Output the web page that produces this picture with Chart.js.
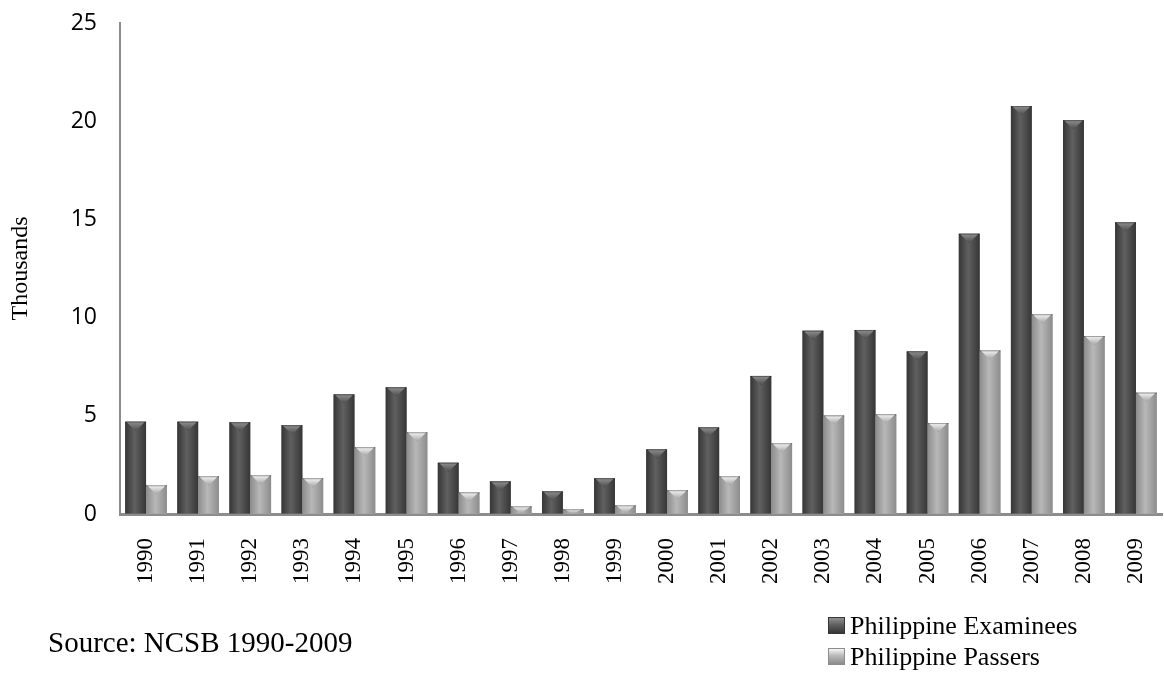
<!DOCTYPE html>
<html>
<head>
<meta charset="utf-8">
<script src="https://cdn.jsdelivr.net/npm/chart.js@4"></script>
<style>
  body { margin: 0; background: #fff; }
  #wrap { position: relative; width: 1164px; height: 675px; }
  #source { position: absolute; left: 48px; top: 624px; font: 29px 'Liberation Serif', 'Times New Roman', serif; color: #000; line-height: 36px; }
  #legend { position: absolute; left: 828px; top: 610px; font: 26px 'Liberation Serif', 'Times New Roman', serif; color: #000; }
  #legend div { height: 31px; line-height: 31px; display: flex; align-items: center; }
  #legend span.box { width: 15px; height: 15px; margin-right: 5px; display: inline-block; }
</style>
</head>
<body>
<div id="wrap">
  <canvas id="chart" width="1164" height="675"></canvas>
  <div id="source">Source: NCSB 1990-2009</div>
  <div id="legend"></div>
</div>
<script>
'use strict';
// values in thousands
var years = ['1990', '1991', '1992', '1993', '1994', '1995', '1996', '1997', '1998', '1999',
  '2000', '2001', '2002', '2003', '2004', '2005', '2006', '2007', '2008', '2009'];
var examinees = [4.70, 4.70, 4.67, 4.52, 6.09, 6.45, 2.61, 1.66, 1.15, 1.82,
  3.29, 4.41, 7.03, 9.33, 9.37, 8.28, 14.27, 20.77, 20.05, 14.85];
var passers = [1.46, 1.92, 1.97, 1.82, 3.40, 4.16, 1.10, 0.39, 0.24, 0.44,
  1.21, 1.92, 3.60, 5.02, 5.08, 4.63, 8.33, 10.17, 9.06, 6.18];
var seriesNames = ['Philippine Examinees', 'Philippine Passers'];
var yTicks = [0, 5, 10, 15, 20, 25];

// shading per series: edge, middle, top cap
var shades = [
  { edge: '#363636', mid: '#606060', cap: '#909090', capEdge: '#4a4a4a' },
  { edge: '#8c8c8c', mid: '#b8b8b8', cap: '#f6f6f6', capEdge: '#a0a0a0' }
];

var serif = "'Liberation Serif', 'Times New Roman', serif";

//draws the bevelled bars over the flat ones
var bevelPlugin = {
  id: 'bevel',
  afterDatasetsDraw: function (chart) {
    let c = chart.ctx;
    chart.data.datasets.forEach(function (ds, i) {
      let meta = chart.getDatasetMeta(i);
      let sh = shades[i];
      meta.data.forEach(function (bar) {
        let p = bar.getProps(['x', 'y', 'base', 'width'], true);
        let l = p.x - p.width / 2, r = p.x + p.width / 2;
        let g = c.createLinearGradient(l, 0, r, 0);
        g.addColorStop(0, sh.edge);
        g.addColorStop(0.45, sh.mid);
        g.addColorStop(1, sh.edge);
        c.save();
        c.fillStyle = g;
        c.fillRect(l, p.y, p.width, p.base - p.y);
        let h = Math.min(p.width * 0.45, p.base - p.y);
        let tg = c.createLinearGradient(0, p.y, 0, p.y + h);
        tg.addColorStop(0, sh.cap);
        tg.addColorStop(1, sh.capEdge);
        c.beginPath();
        c.moveTo(l + 1, p.y);
        c.lineTo(r - 1, p.y);
        c.lineTo(p.x, p.y + h);
        c.closePath();
        c.fillStyle = tg;
        c.fill();
        c.fillStyle = 'rgba(0,0,0,0.35)';
        c.fillRect(l, p.y, p.width, 1);
        c.restore();
      });
    });
  }
};

var chart = new Chart(document.getElementById('chart'), {
  type: 'bar',
  data: {
    labels: years,
    datasets: [{
      label: seriesNames[0],
      data: examinees,
      backgroundColor: shades[0].mid
    }, {
      label: seriesNames[1],
      data: passers,
      backgroundColor: shades[1].mid
    }]
  },
  options: {
    responsive: false,
    animation: false,
    devicePixelRatio: 1,
    layout: { padding: { top: 23, right: 2, left: 0, bottom: 0 } },
    datasets: { bar: { categoryPercentage: 0.8, barPercentage: 1.0 } },
    plugins: {
      legend: { display: false },
      tooltip: { enabled: false }
    },
    scales: {
      x: {
        grid: { drawOnChartArea: false, drawTicks: false },
        border: { color: '#8c8c8c', width: 3 },
        ticks: {
          color: '#000',
          font: { family: serif, size: 23 },
          minRotation: 90,
          maxRotation: 90,
          padding: 24,
          autoSkip: false
        },
        afterFit: function (scale) {
          scale.height = 161;
          scale.paddingLeft = 0;
          scale.paddingRight = 0;
        }
      },
      y: {
        min: 0,
        max: 25,
        grid: { drawOnChartArea: false, drawTicks: false },
        border: { color: '#8c8c8c', width: 2 },
        afterBuildTicks: function (scale) {
          scale.ticks = yTicks.map(function (v) { return { value: v }; });
        },
        ticks: {
          color: '#000',
          font: { family: "'Open Sans', sans-serif", size: 23 },
          padding: 23
        },
        title: {
          display: true,
          text: 'Thousands',
          color: '#000',
          font: { family: serif, size: 24 },
          padding: { top: 6, bottom: 0 }
        },
        afterFit: function (scale) {
          scale.width = 120;
          scale.paddingTop = 0;
          scale.paddingBottom = 0;
        }
      }
    }
  },
  plugins: [bevelPlugin]
});

// legend as html, taken from the chart datasets
var legendEl = document.getElementById('legend');
chart.data.datasets.forEach(function (ds, i) {
  let row = document.createElement('div');
  let box = document.createElement('span');
  box.className = 'box';
  box.style.background = 'linear-gradient(180deg, ' + shades[i].cap + ' 0%, ' + shades[i].mid + ' 45%, ' + shades[i].edge + ' 100%)';
  box.style.border = '1px solid ' + shades[i].edge;
  row.appendChild(box);
  let txt = document.createElement('span');
  txt.innerText = ds.label;
  row.appendChild(txt);
  legendEl.appendChild(row);
});
</script>
</body>
</html>
